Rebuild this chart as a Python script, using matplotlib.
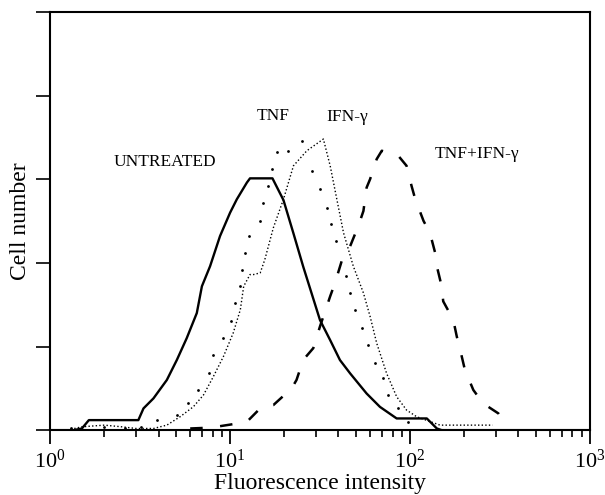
import matplotlib.pyplot as plt
from matplotlib.ticker import LogLocator, NullFormatter

plt.rcParams['font.family'] = ['Liberation Serif', 'DejaVu Serif']
plt.rcParams['mathtext.fontset'] = 'custom'
plt.rcParams['mathtext.rm'] = 'Liberation Serif'
plt.rcParams['mathtext.it'] = 'Liberation Serif:italic'

# histogram traces (fluorescence intensity, cell number)
untreated_x = [1.0, 1.35, 1.5, 1.64, 3.09, 3.30, 3.75, 4.45, 5.06, 5.74, 6.53, 6.97,
               7.74, 8.79, 10.0, 10.9, 12.4, 12.9, 17.2, 19.8, 22.5, 25.5, 28.4,
               31.6, 36.0, 40.8, 46.5, 57.4, 68.1, 84.3, 124, 141, 150, 1000]
untreated_y = [0, 0, 1, 6, 6, 13, 19, 30, 42, 55, 70, 86,
               98, 116, 130, 138, 148, 150.5, 150.5, 137.5, 117.6, 97.7, 81.7,
               65.8, 53.8, 41.9, 33.9, 21.9, 13.9, 7, 7, 1, 0, 0]

tnf_x = [1.3, 2.0, 2.6, 3.2, 3.92, 5.06, 5.87, 6.67, 7.59, 8.07, 9.10, 10.1, 10.7,
         11.3, 11.6, 12.1, 12.8, 14.7, 15.3, 16.3, 17.0, 18.2, 21.1, 25.0, 28.4,
         31.6, 34.4, 36.2, 38.6, 44.1, 46.5, 49.4, 53.8, 58.7, 64.0, 71.1, 75.9,
         86.1, 98.0]
tnf_y = [1, 2, 1, 2, 6, 9, 16, 24, 34, 45, 55, 65, 76,
         86, 96, 106, 116, 125, 136, 146, 156, 166, 167, 173, 155,
         144, 133, 123, 113, 92, 82, 72, 61, 51, 40, 31, 21,
         13, 5]

ifn_x = [1.3, 1.5, 2.0, 2.5, 3.0, 3.75, 4.45, 5.27, 6.25, 7.11, 8.07, 9.18, 10.4,
         11.4, 11.9, 12.9, 13.5, 14.7, 15.6, 17.4, 19.8, 22.5, 26.7, 33.0, 36.0,
         39.2, 42.7, 48.4, 55.1, 60.0, 65.3, 74.1, 84.3, 95.7, 109, 147, 288]
ifn_y = [0.5, 2, 3, 2, 1, 1, 3, 8, 14, 21, 32, 44, 58,
         72, 86, 93, 93, 94, 102, 121, 138, 158, 167, 174, 158,
         138, 118, 98, 82, 68, 52, 34, 20, 12, 8, 3, 3]

combo_x = [6.0, 7.8, 10.4, 12.4, 15.0, 17.4, 22.0, 23.4, 25.5, 29.0, 31.6, 36.0,
           38.3, 41.7, 46.5, 51.6, 55.1, 57.4, 60.0, 65.3, 69.7, 86.1, 95.7, 102,
           107, 119, 129, 138, 141, 150, 153, 174, 182, 194, 202, 225, 255,
           310, 344]
combo_y = [1, 1.5, 3.6, 5, 14, 15, 25, 30, 42, 49, 62, 80,
           88, 101, 110, 122, 131, 145, 150, 162, 167, 164, 158, 146,
           138, 125, 118, 106, 98, 86, 77, 66, 56, 44, 36, 24, 16,
           10, 3]

fig = plt.figure(figsize=(6.05, 4.95), dpi=100)
ax = fig.add_axes([0.083, 0.131, 0.892, 0.845])

ax.plot(untreated_x, untreated_y, color='black', lw=1.7)
ax.plot(tnf_x, tnf_y, color='black', linestyle='none', marker='o',
        markersize=2.0, markeredgewidth=0)
ax.plot(ifn_x, ifn_y, color='black', lw=1.0, linestyle=(0, (1, 1.6)))
ax.plot(combo_x, combo_y, color='black', lw=1.8, linestyle=(0, (5, 7)))

ax.text(2.24, 160, 'UNTREATED', fontsize=12.5, va='center')
ax.text(14.1, 188, 'TNF', fontsize=12.5, va='center')
ax.text(34.1, 187, 'IFN-γ', fontsize=12.5, va='center')
ax.text(138, 165, 'TNF+IFN-γ', fontsize=12.5, va='center')

ax.set_xscale('log')
ax.set_xlim(1, 1000)
ax.set_ylim(0, 250)
ax.set_yticks([0, 50, 100, 150, 200, 250])
ax.set_yticklabels([])
ax.xaxis.set_minor_locator(LogLocator(base=10, subs=range(2, 10)))
ax.xaxis.set_minor_formatter(NullFormatter())
ax.tick_params(axis='x', which='major', direction='out', length=10, width=1.3,
               labelsize=16, pad=4)
ax.tick_params(axis='x', which='minor', direction='out', length=5, width=1.2)
ax.tick_params(axis='y', which='major', direction='out', length=10, width=1.2)
for s in ax.spines.values():
    s.set_linewidth(1.5)

ax.set_xlabel('Fluorescence intensity', fontsize=17, labelpad=0)
ax.set_ylabel('Cell number', fontsize=17, labelpad=0)

fig.savefig('out.png', dpi=100)
